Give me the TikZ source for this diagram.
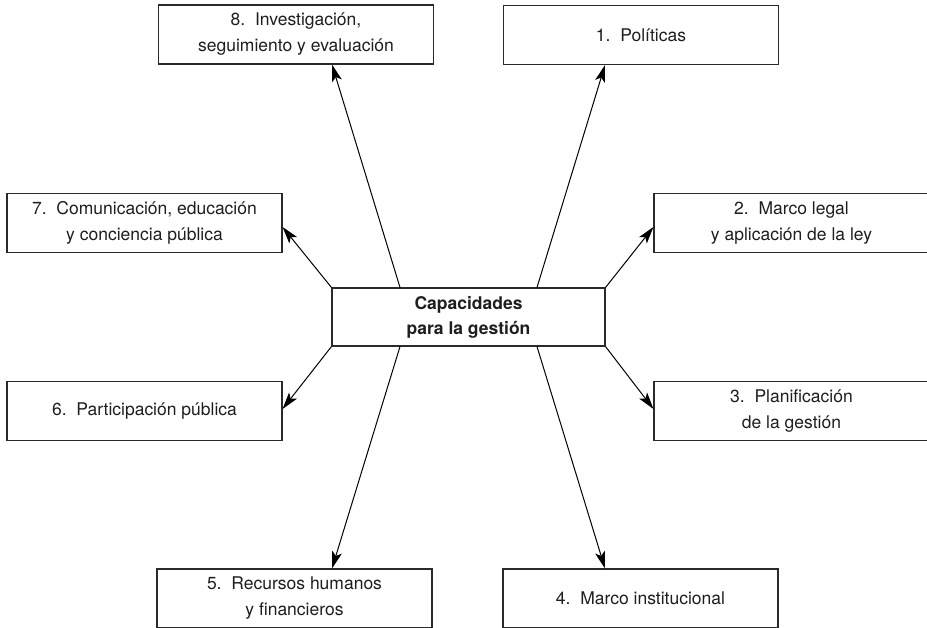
\documentclass[tikz,border=0pt]{standalone}
\usepackage{fontspec}
\setmainfont{TeX Gyre Heros}
\usetikzlibrary{arrows.meta}
\definecolor{linegray}{HTML}{2A2A2A}
\definecolor{textgray}{HTML}{1E1E1E}
\begin{document}
\begin{tikzpicture}[x=1pt,y=-1pt,
  box/.style={draw=linegray, line width=1.1pt, minimum width=275pt, minimum height=59pt,
    inner sep=0pt, align=center, text=textgray,
    font=\fontsize{17.5}{26}\selectfont},
  centerbox/.style={box, minimum width=273pt, minimum height=58pt,
    font=\fontsize{17.5}{25}\selectfont\bfseries},
  arr/.style={draw=black, line width=1pt, -{Stealth[length=17pt,width=10pt,inset=4pt]}}]
\useasboundingbox (0,0) rectangle (927,627);
\fill[white] (0,0) rectangle (927,627);
% nodes
\node[centerbox] (c) at (468.5,317) {Capacidades\\para la gestión};
\node[box] (b8) at (296,34.5) {8.\ \ Investigación,\\seguimiento y evaluación};
\node[box] (b1) at (641,35) {1.\ \ Políticas};
\node[box] (b7) at (144.5,223) {7.\ \ Comunicación, educación\\y conciencia pública};
\node[box] (b2) at (791.5,223) {2.\ \ Marco legal\\y aplicación de la ley};
\node[box] (b6) at (144.5,411) {6.\ \ Participación pública};
\node[box] (b3) at (791.5,411) {3.\ \ Planificación\\de la gestión};
\node[box] (b5) at (294.5,598.5) {5.\ \ Recursos humanos\\y financieros};
\node[box] (b4) at (640.5,598.5) {4.\ \ Marco institucional};
% connectors
\draw[arr] ([xshift=-68.5pt]c.north) -- ([xshift=36pt]b8.south);
\draw[arr] ([xshift=68.5pt]c.north) -- ([xshift=-36pt]b1.south);
\draw[arr] (c.north west) -- ([yshift=-4pt]b7.east);
\draw[arr] (c.north east) -- ([yshift=-4pt]b2.west);
\draw[arr] (c.south west) -- ([yshift=2pt]b6.east);
\draw[arr] (c.south east) -- ([yshift=2pt]b3.west);
\draw[arr] ([xshift=-68.5pt]c.south) -- ([xshift=37.5pt]b5.north);
\draw[arr] ([xshift=68.5pt]c.south) -- ([xshift=-35.5pt]b4.north);
\end{tikzpicture}
\end{document}
